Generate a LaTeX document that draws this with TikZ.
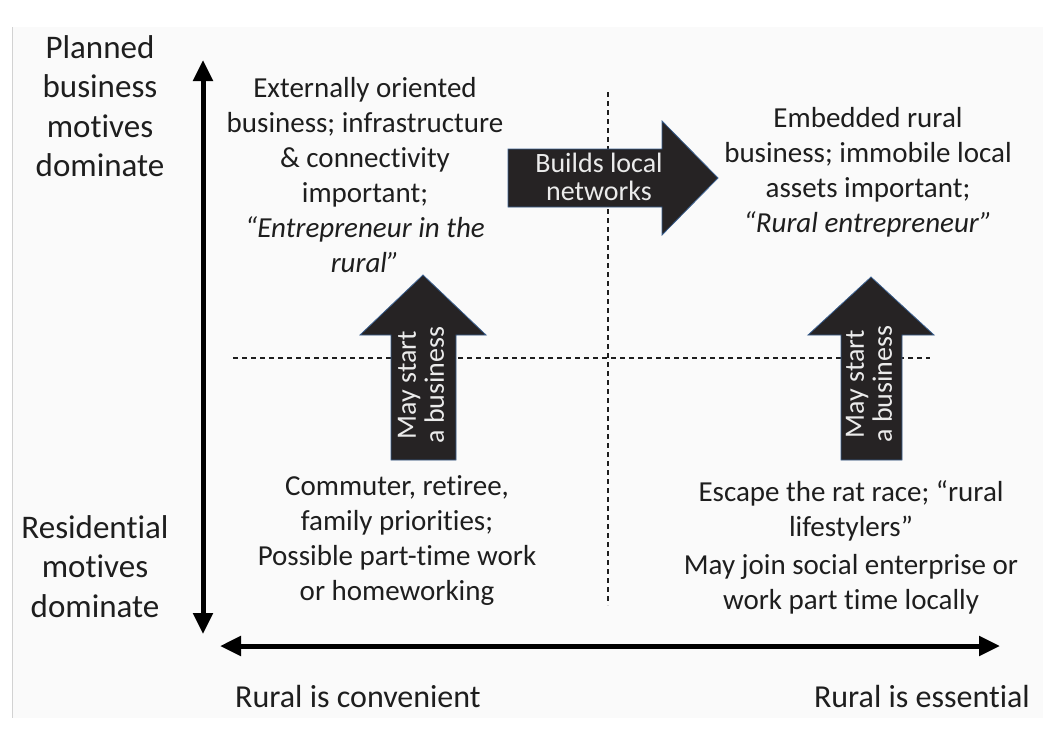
\documentclass[tikz,border=0pt]{standalone}
\usepackage{fontspec}
\setmainfont{Carlito}[Ligatures=NoCommon]
\usetikzlibrary{positioning, arrows.meta}

\definecolor{inkdark}{HTML}{1E1E1E}
\definecolor{arrowfill}{HTML}{262324}
\definecolor{arrowedge}{HTML}{3A5F8F}
\definecolor{panelgray}{HTML}{FAFAFA}

\begin{document}
\begin{tikzpicture}[
x=1pt, y=-1pt,
axislabel/.style={
	text=inkdark,
	align=center,
	inner sep=0pt,
	font=\fontsize{33}{39.5}\selectfont
},
quadtext/.style={
	text=inkdark,
	align=center,
	inner sep=0pt,
	font=\fontsize{29}{35}\selectfont
},
bottomlabel/.style={
	text=inkdark,
	inner sep=0pt,
	font=\fontsize{32}{38}\selectfont
},
blockarrow/.style={
	fill=arrowfill,
	draw=arrowedge,
	line width=0.8pt,
	line join=miter
},
arrowtext/.style={
	text=white!92!black,
	align=center,
	inner sep=0pt,
	font=\fontsize{28}{28}\selectfont
},
axis/.style={
	draw=black,
	line width=5pt,
	{Triangle[width=19pt,length=21pt]}-{Triangle[width=19pt,length=21pt]}
},
divider/.style={
	draw=inkdark,
	line width=1.1pt,
	dash pattern=on 5pt off 4pt
}
]

\useasboundingbox (0,0) rectangle (1043,734);
\fill[panelgray] (12,27) rectangle (1043,718);
\draw[gray!35, line width=0.8pt] (12,27) -- (12,718);

% Axis ends
\coordinate (ytop) at (203,60);
\coordinate (ybot) at (203,634);
\coordinate (xleft) at (220,646);
\coordinate (xright) at (1000,646);

% Quadrant dividers
\coordinate (hleft) at (233,358);
\coordinate (hright) at (930,358);
\coordinate (vtop) at (608,92);
\coordinate (vbot) at (608,605);
\draw[divider] (hleft) -- (hright);
\draw[divider] (vtop) -- (vbot);

% Axes
\draw[axis] (ytop) -- (ybot);
\draw[axis] (xleft) -- (xright);

% Axis labels
\node[axislabel, anchor=north] (planned) at (100,35) {Planned\\business\\motives\\dominate};
\node[axislabel, anchor=north] (residential) at (95,515) {Residential\\motives\\dominate};
\node[bottomlabel, anchor=base west] (convenient) at (235,707) {Rural is convenient};
\node[bottomlabel, anchor=base east] (essential) at (1030,707) {Rural is essential};

% Quadrant texts
\node[quadtext, anchor=north] (external) at (365,77) {Externally oriented\\business; infrastructure\\\& connectivity\\important;\\\textit{``Entrepreneur in the}\\\textit{rural''}};
\node[quadtext, anchor=north] (embedded) at (868,107) {Embedded rural\\business; immobile local\\assets important;\\\textit{``Rural entrepreneur''}};
\node[quadtext, anchor=north] (commuter) at (397,475) {Commuter, retiree,\\family priorities;\\Possible part-time work\\or homeworking};
\node[quadtext, anchor=north] (escape) at (851,480) {Escape the rat race; ``rural\\lifestylers''\\[3pt]May join social enterprise or\\work part time locally};

% Block arrows
\draw[blockarrow] (508,149) -- (662,149) -- (662,121) -- (718,178) -- (662,235) -- (662,207) -- (508,207) -- cycle;
\node[arrowtext] (networks) at (599,177) {Builds local\\networks};

\draw[blockarrow] (391,460) -- (391,335) -- (360,335) -- (423,275) -- (486,335) -- (456,335) -- (456,460) -- cycle;
\node[arrowtext, rotate=90] (startleft) at (421,385) {May start\\a business};

\draw[blockarrow] (841,460) -- (841,335) -- (808,335) -- (871,277) -- (934,335) -- (902,335) -- (902,460) -- cycle;
\node[arrowtext, rotate=90] (startright) at (869,384) {May start\\a business};

\end{tikzpicture}
\end{document}
